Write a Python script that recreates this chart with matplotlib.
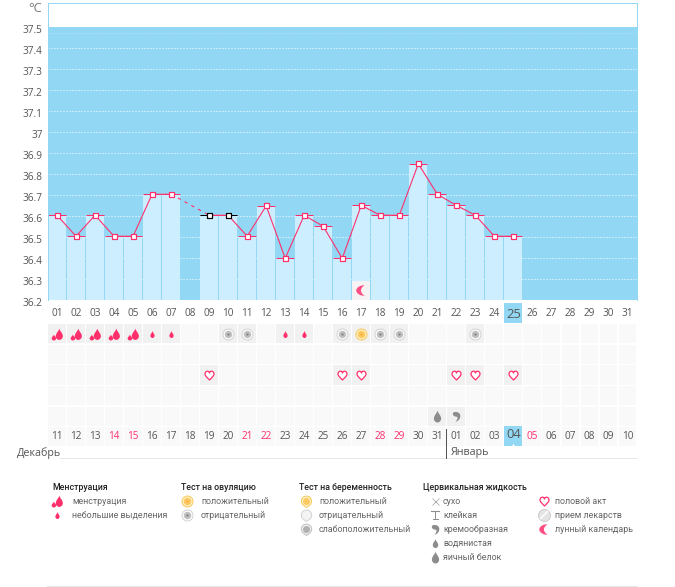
import numpy as np
import matplotlib
matplotlib.use('Agg')
import matplotlib.pyplot as plt
from matplotlib.path import Path
from matplotlib.transforms import ScaledTranslation

plt.rcParams['font.family'] = ['Open Sans', 'DejaVu Sans']

# chart data
days = np.arange(1, 32)
temps = [36.605, 36.505, 36.605, 36.505, 36.505, 36.705, 36.705, np.nan, 36.605, 36.605,
         36.505, 36.65, 36.4, 36.605, 36.552, 36.4, 36.652, 36.605, 36.605, 36.85,
         36.705, 36.652, 36.605, 36.505, 36.505]
temp_ticks = [36.2, 36.3, 36.4, 36.5, 36.6, 36.7, 36.8, 36.9, 37, 37.1, 37.2, 37.3, 37.4, 37.5]
temp_labels = ['36.2', '36.3', '36.4', '36.5', '36.6', '36.7', '36.8', '36.9', '37',
               '37.1', '37.2', '37.3', '37.4', '37.5']
day_labels = ['%02d' % d for d in days]
date_labels = ['11', '12', '13', '14', '15', '16', '17', '18', '19', '20', '21', '22', '23', '24', '25',
               '26', '27', '28', '29', '30', '31', '01', '02', '03', '04', '05', '06', '07', '08', '09', '10']
weekend_days = [4, 5, 11, 12, 18, 19, 26]
today = 25
unconfirmed = [9, 10]
moon_days = [17]

# events per row of the strip under the chart
menstruation_days = [1, 2, 3, 4, 5]
spotting_days = [6, 7, 13, 14]
ovulation_neg_days = [10, 11, 16, 18, 19, 23]
ovulation_pos_days = [17]
heart_days = [9, 16, 17, 22, 23, 25]
egg_days = [21]
cream_days = [22]

# legend texts
leg_titles = ['Менструация', 'Тест на овуляцию', 'Тест на беременность', 'Цервикальная жидкость']
leg_mens = ['менструация', 'небольшие выделения']
leg_ovul = ['положительный', 'отрицательный']
leg_preg = ['положительный', 'отрицательный', 'слабоположительный']
leg_fluid = ['сухо', 'клейкая', 'кремообразная', 'водянистая', 'яичный белок']
leg_other = ['половой акт', 'прием лекарств', 'лунный календарь']

W, H = 675, 587
SKY = '#92d8f4'
BAR = '#cceeff'
PINK = '#ff2f6c'
TXT = '#555555'
GREY = '#8c8c8c'
LEG_FONT = ['Roboto', 'DejaVu Sans']


def rect(l, t, r, b):
    return [l / W, 1 - b / H, (r - l) / W, (b - t) / H]


def pt(px):
    return px * 0.72


# icon shapes
def drop_path(dx=0, dy=0, k=1.0, w=0.6):
    v = np.array([(0, 1), (0.1, 0.5), (w, 0.2), (w, -0.35), (w, -0.75), (0.3, -1), (0, -1),
                  (-0.3, -1), (-w, -0.75), (-w, -0.35), (-w, 0.2), (-0.1, 0.5), (0, 1), (0, 1)]) * k
    c = [Path.MOVETO] + [Path.CURVE4] * 12 + [Path.CLOSEPOLY]
    return Path(v + [dx, dy], c)


DROP = drop_path()
DOUBLE = Path.make_compound_path(drop_path(0.3, 0.05, 0.95, 0.62), drop_path(-0.6, -0.5, 0.5, 0.75))
HEART = Path([(0, -1), (-0.5, -0.45), (-1, -0.1), (-1, 0.35), (-1, 0.8), (-0.6, 1), (-0.35, 0.95),
              (-0.15, 0.9), (0, 0.7), (0, 0.55), (0, 0.7), (0.15, 0.9), (0.35, 0.95), (0.6, 1), (1, 0.8),
              (1, 0.35), (1, -0.1), (0.5, -0.45), (0, -1), (0, -1)],
             [Path.MOVETO] + [Path.CURVE4] * 18 + [Path.CLOSEPOLY])
MOON = Path([(0.6, 1), (-0.2, 1.05), (-1, 0.6), (-1, 0), (-1, -0.6), (-0.2, -1.05), (0.6, -1),
             (0.1, -0.7), (-0.1, -0.3), (-0.1, 0), (-0.1, 0.3), (0.1, 0.7), (0.6, 1), (0.6, 1)],
            [Path.MOVETO] + [Path.CURVE4] * 12 + [Path.CLOSEPOLY])
COMMA = Path([(-0.7, 0.55), (-0.7, 1), (0.5, 1.05), (0.7, 0.3), (0.85, -0.3), (0.4, -0.9), (-0.2, -1),
              (0.1, -0.7), (0.25, -0.4), (0.15, -0.05), (-0.4, -0.05), (-0.7, 0.15), (-0.7, 0.55), (-0.7, 0.55)],
             [Path.MOVETO] + [Path.CURVE4] * 12 + [Path.CLOSEPOLY])
# round test mark with a small point at the bottom
TEST = Path([(0, -1), (-0.35, -0.75), (-0.85, -0.55), (-0.85, 0.05), (-0.85, 0.6), (-0.45, 0.9), (0, 0.9),
             (0.45, 0.9), (0.85, 0.6), (0.85, 0.05), (0.85, -0.55), (0.35, -0.75), (0, -1), (0, -1)],
            [Path.MOVETO] + [Path.CURVE4] * 12 + [Path.CLOSEPOLY])


def icon(ax, x, y, name):
    def m(marker, size, fc, ec='none', mew=0.7):
        ax.plot(x, y, ls='none', marker=marker, ms=pt(size), mfc=fc, mec=ec, mew=mew, zorder=5, clip_on=False)
    if name == 'mens':
        m(DOUBLE, 12, PINK)
    elif name == 'spot':
        m(DROP, 7, PINK)
    elif name == 'ovul_neg':
        m('o', 11, 'white', '#d2d2d2')
        m('o', 7.5, '#c0c0c0')
        m('o', 2.5, '#8a8a8a')
    elif name == 'ovul_pos':
        m('o', 11, '#fff2c8', '#f8c75a')
        m('o', 7.5, '#fbc862')
        m('o', 2.5, '#ffb040')
    elif name == 'heart':
        m(HEART, 9, 'white', PINK, 0.9)
    elif name == 'moon':
        m(MOON, 11, '#ff4f82')
    elif name == 'egg':
        m(DROP, 12, GREY)
    elif name == 'cream':
        m(COMMA, 11, GREY)
    elif name == 'water':
        m(DROP, 9, GREY)
    elif name == 'dry':
        m('x', 7, GREY, '#a0a0a0', 0.5)
    elif name == 'sticky':
        ax.plot([x - 4, x + 4], [y - 4, y - 4], color=GREY, lw=0.8, zorder=5)
        ax.plot([x, x], [y - 4, y + 4], color=GREY, lw=0.7, zorder=5)
        ax.plot([x - 2.5, x + 2.5], [y + 4, y + 4], color=GREY, lw=0.7, zorder=5)
    elif name == 'pill':
        m('o', 12, '#e4e4e4', '#cccccc')
        ax.plot([x - 3.5, x + 3.5], [y + 3.5, y - 3.5], color='white', lw=1.0, zorder=6)
    elif name == 'preg_pos':
        m(TEST, 12, '#fff2c8', '#f8c75a')
        m('o', 7, '#fbc862')
    elif name == 'preg_neg':
        m(TEST, 12, '#f4f4f4', '#d2d2d2')
    elif name == 'preg_weak':
        m(TEST, 12, '#eeeeee', '#c0c0c0')
        m('o', 7, '#b0b0b0')


fig = plt.figure(figsize=(W / 100, H / 100), dpi=100, facecolor='white')

# main temperature chart
ax = fig.add_axes(rect(47.5, 3.3, 637, 300.3))
ax.axhspan(36.2, 37.5, color=SKY, lw=0, zorder=0)
ax.hlines(temp_ticks[:-1], 0.5, 31.5, color='white', lw=pt(1), ls=(0, (1, 2)), zorder=0.5, clip_on=False)
ax.hlines(37.475, 0.5, 31.5, color='white', lw=pt(1), ls=(0, (1, 2)), alpha=0.3, zorder=0.5)

temp_days = days[:len(temps)]
temps_arr = np.array(temps)
ok = ~np.isnan(temps_arr)
ax.bar(temp_days[ok], temps_arr[ok] - 36.2, bottom=36.2, width=0.95, color=BAR, lw=0, zorder=1)
ax.hlines(temps_arr[ok], temp_days[ok] - 0.49, temp_days[ok] + 0.46, color=PINK, lw=pt(1), zorder=2)
for d in unconfirmed:
    t = temps_arr[d - 1]
    if d == unconfirmed[0]:
        ax.hlines(t, d - 0.5, d, color='black', lw=pt(1), zorder=2.1)
    else:
        ax.hlines(t, d, d + 0.46, color='black', lw=pt(1), zorder=2.1)

ax.plot(temp_days, temps_arr, color=PINK, lw=pt(1.1), zorder=3)
gap = np.where(~ok)[0][0]
ax.plot(temp_days[[gap - 1, gap + 1]], temps_arr[[gap - 1, gap + 1]], color=PINK, lw=pt(1.1),
        ls=(0, (3, 4)), zorder=3)
edge = ['black' if d in unconfirmed else PINK for d in temp_days[ok]]
ax.scatter(temp_days[ok], temps_arr[ok], marker='s', s=pt(5) ** 2, facecolor='white', edgecolor=edge,
           linewidth=pt(1.2), zorder=4)

# moon cell and today cell
ax.bar(moon_days, 0.093, bottom=36.2, width=0.95, color='#f5f3f4', lw=0, zorder=3)
for d in moon_days:
    icon(ax, d - 0.03, 36.25, 'moon')
ax.bar([today], 0.0945, bottom=36.0925, width=0.95, color=SKY, lw=0, clip_on=False, zorder=1)

ax.set_xlim(0.5, 31.5)
ax.set_ylim(36.2, 36.2 + 297 / 210)
ax.set_xticks(days)
ax.set_xticklabels(day_labels)
ax.set_yticks(temp_ticks)
ax.set_yticklabels(temp_labels)
ax.tick_params(axis='both', length=0, labelsize=pt(10), labelcolor=TXT)
ax.tick_params(axis='x', pad=pt(7.5))
ax.tick_params(axis='y', pad=pt(5))
shift = ScaledTranslation(0, -2 / 100, fig.dpi_scale_trans)
for lab in ax.get_yticklabels():
    lab.set_transform(lab.get_transform() + shift)
for lab, d in zip(ax.get_xticklabels(), days):
    if d == today:
        lab.set_fontsize(pt(13))
for s in ['left', 'top', 'right']:
    ax.spines[s].set_color(SKY)
    ax.spines[s].set_linewidth(pt(1))
ax.spines['bottom'].set_visible(False)

# strip of event rows below the chart
st = fig.add_axes(rect(47.5, 323.5, 637, 447))
st.set_xlim(0.5, 31.5)
st.set_ylim(6, 0)
st.axis('off')
for row in range(6):
    st.bar(days, 0.93, bottom=row + 0.035, width=0.94, color='#faf9fa', lw=0, zorder=1)

events = [(0, menstruation_days, 'mens'), (0, spotting_days, 'spot'), (0, ovulation_neg_days, 'ovul_neg'),
          (0, ovulation_pos_days, 'ovul_pos'), (2, heart_days, 'heart'), (4, egg_days, 'egg'),
          (4, cream_days, 'cream')]
for row, ev_days, name in events:
    st.bar(ev_days, 0.93, bottom=row + 0.035, width=0.94, color='#f1f1f1', lw=0, zorder=2)
    for d in ev_days:
        icon(st, d, row + 0.5, name)

st.bar([today], 0.93, bottom=5.0, width=0.95, color=SKY, lw=0, zorder=2)
st.plot([today], [5.9], ls='none', marker='^', ms=pt(4), mfc='white', mec='none', zorder=3)
for d, lab in zip(days, date_labels):
    col = PINK if d in weekend_days else TXT
    big = d == today
    st.text(d, 5.4 if big else 5.5, lab, ha='center', va='center', fontsize=pt(13 if big else 10),
            color=col, zorder=4)

# page level things: month names, rules, legend
pg = fig.add_axes([0, 0, 1, 1], facecolor='none')
pg.set_xlim(0, W)
pg.set_ylim(H, 0)
pg.axis('off')
pg.plot([60, 636], [458, 458], color='#e6e6e6', lw=pt(1))
pg.plot([47, 636], [586, 586], color='#e6e6e6', lw=pt(1))
pg.plot([446, 446], [429, 458], color='#555555', lw=pt(1))
pg.text(17, 453, 'Декабрь', fontsize=pt(10.8), color=TXT, va='center')
pg.text(451, 453, 'Январь', fontsize=pt(10.8), color=TXT, va='center')
pg.text(28, 8, '°C', fontsize=pt(13), color='#777777', va='center')

title_x = [52, 181, 299, 423]
for x, t in zip(title_x, leg_titles):
    pg.text(x, 487, t, fontsize=pt(8.8), color='#222222', va='center', family=LEG_FONT, weight='medium')

columns = [(leg_mens, ['mens', 'spot'], 57, 72),
           (leg_ovul, ['ovul_pos', 'ovul_neg'], 187, 201),
           (leg_preg, ['preg_pos', 'preg_neg', 'preg_weak'], 306, 319),
           (leg_fluid, ['dry', 'sticky', 'cream', 'water', 'egg'], 435, 443),
           (leg_other, ['heart', 'pill', 'moon'], 544, 555)]
for labels, names, ix, tx in columns:
    for i, (lab, name) in enumerate(zip(labels, names)):
        y = 501 + i * 14
        icon(pg, ix, y, name)
        pg.text(tx, y, lab, fontsize=pt(8.9), color='#666666', va='center', family=LEG_FONT)

fig.savefig('out.png', dpi=100)
